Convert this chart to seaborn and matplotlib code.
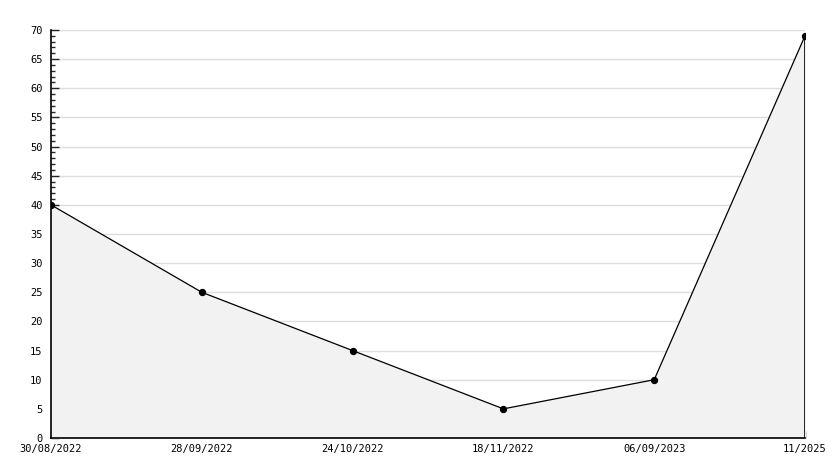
import numpy as np
import pandas as pd
import seaborn as sns
import matplotlib.pyplot as plt
from matplotlib.ticker import MultipleLocator

dates = ['30/08/2022', '28/09/2022', '24/10/2022', '18/11/2022', '06/09/2023', '11/2025']
values = [40, 25, 15, 5, 10, 69]

df = pd.DataFrame({'pos': range(len(dates)), 'value': values})

sns.set_style("white")
plt.rcParams['font.family'] = ['DejaVu Sans Mono']

fig = plt.figure(figsize=(8.34, 4.68), dpi=100)
ax = fig.add_axes([51/834, 30/468, 754/834, 408/468])

ax.fill_between(df['pos'], df['value'], 0, color='#f2f2f2', zorder=1)
sns.lineplot(data=df, x='pos', y='value', color='black', linewidth=0.9,
             marker='o', markersize=4.5, markeredgecolor='black', ax=ax, zorder=3)
# closing edge of the filled area at the last point
ax.vlines(df['pos'].iloc[-1], 0, df['value'].iloc[-1], color='black', linewidth=1.2, zorder=2)

ax.set_xlim(0, len(dates) - 1)
ax.set_ylim(0, 70)
ax.set_xticks(df['pos'])
ax.set_xticklabels(dates)
ax.yaxis.set_major_locator(MultipleLocator(5))
ax.yaxis.set_minor_locator(MultipleLocator(1))
ax.grid(axis='y', color='#dddddd', linewidth=1, zorder=0)
ax.set_axisbelow(True)

for s in ['top', 'right']:
    ax.spines[s].set_visible(False)
for s in ['left', 'bottom']:
    ax.spines[s].set_color('black')
    ax.spines[s].set_linewidth(1.2)

ax.tick_params(axis='y', which='major', direction='in', length=6, width=1, labelsize=7.5,
               pad=6, left=True, labelcolor='black')
ax.tick_params(axis='y', which='minor', direction='in', length=3, width=1, left=True)
ax.tick_params(axis='x', which='major', direction='in', length=5, width=1, labelsize=7.5,
               pad=4, bottom=True, labelcolor='black')
ax.set_xlabel('')
ax.set_ylabel('')

fig.savefig('out.png', dpi=100)
